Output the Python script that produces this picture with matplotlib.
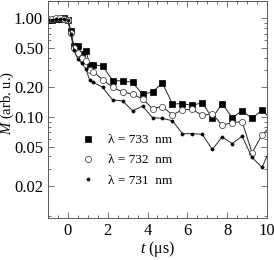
import numpy as np
import matplotlib
matplotlib.use("Agg")
import matplotlib.pyplot as plt
import matplotlib.ticker as mticker

###
# Data
###

t_us = [-1.0, -0.8, -0.6, -0.4, -0.2, 0.0, 0.15, 0.3, 0.5, 0.7, 0.9, 1.1, 1.25,
        1.75, 2.25, 2.75, 3.25, 3.75, 4.25, 4.75, 5.25, 5.75, 6.25, 6.75,
        7.25, 7.75, 8.25, 8.75, 9.25, 9.75, 10.25]

m_733 = [0.97, 0.97, 0.98, 0.98, 1.00, 0.97, 0.74, 0.53, 0.53, 0.44, 0.47, 0.34, 0.34,
         0.33, 0.235, 0.233, 0.225, 0.17, 0.18, 0.222, 0.136, 0.137, 0.132, 0.14,
         0.098, 0.137, 0.099, 0.116, 0.097, 0.118, 0.093]

m_732 = [0.98, 0.98, 1.00, 1.02, 0.98, 0.97, 0.72, 0.50, 0.45, 0.40, 0.37, 0.30, 0.29,
         0.24, 0.20, 0.18, 0.171, 0.153, 0.122, 0.128, 0.105, 0.119, 0.120, 0.104,
         0.108, 0.083, 0.088, 0.090, 0.0435, 0.066, 0.083]

m_731 = [0.97, 0.97, 0.98, 0.98, 0.98, 0.96, 0.70, 0.48, 0.39, 0.35, 0.31, 0.236, 0.227,
         0.20, 0.149, 0.146, 0.116, 0.129, 0.099, 0.097, 0.092, 0.068, 0.068, 0.067,
         0.047, 0.063, 0.054, 0.064, 0.039, 0.031, 0.052]

labels = ["\u03bb = 733  nm", "\u03bb = 732  nm", "\u03bb = 731  nm"]
y_ticks = [0.02, 0.05, 0.10, 0.20, 0.50, 1.00]
x_ticks = [0, 2, 4, 6, 8, 10]

###
# Style
###
plt.rcParams['font.family'] = ['Liberation Serif', 'DejaVu Serif']
plt.rcParams['mathtext.fontset'] = 'custom'
plt.rcParams['mathtext.rm'] = 'Liberation Serif'
plt.rcParams['mathtext.it'] = 'Liberation Serif:italic'

fig = plt.figure(figsize=(2.74, 2.60), dpi=100)
ax = fig.add_axes([0.175, 0.1615, 0.7995, 0.8365])

lc = '0.15'
ax.plot(t_us, m_733, '-', color=lc, lw=0.7, marker='s', ms=4.0,
        mfc='black', mec='black', mew=0.5, label=labels[0], clip_on=True)
ax.plot(t_us, m_732, '-', color=lc, lw=0.7, marker='o', ms=4.4,
        mfc='white', mec='0.3', mew=0.6, label=labels[1], clip_on=True)
ax.plot(t_us, m_731, '-', color=lc, lw=0.7, marker='o', ms=2.3,
        mfc='black', mec='black', mew=0.4, label=labels[2], clip_on=True)

ax.set_yscale('log')
ax.set_xlim(-1.0, 10.0)
ax.set_ylim(0.0095, 1.52)

ax.yaxis.set_major_locator(mticker.FixedLocator(y_ticks))
ax.yaxis.set_major_formatter(mticker.FixedFormatter(["%.2f" % v for v in y_ticks]))
ax.yaxis.set_minor_locator(mticker.LogLocator(base=10, subs=(1, 3, 4, 6, 7, 8, 9)))
ax.yaxis.set_minor_formatter(mticker.NullFormatter())
ax.xaxis.set_major_locator(mticker.FixedLocator(x_ticks))
ax.xaxis.set_minor_locator(mticker.MultipleLocator(0.5))

for s in ax.spines.values():
    s.set_linewidth(0.7)
    s.set_color('0.35')
ax.tick_params(which='both', direction='in', top=True, right=True,
               color='0.35', width=0.6, labelsize=12, pad=3.5)
ax.tick_params(which='major', length=4)
ax.tick_params(which='minor', length=2)

ax.set_xlabel('$t$ (\u03bcs)', fontsize=11.5, labelpad=0)
ax.set_ylabel('$M$ (arb. u.)', fontsize=10.5)
# label anchor sits on the right edge of the rotated text
ax.yaxis.set_label_coords(-0.145, 0.53)

leg = ax.legend(loc='lower left', bbox_to_anchor=(0.1, 0.09), frameon=False,
                fontsize=9.5, handlelength=1.0, handletextpad=1.0,
                labelspacing=0.6)
for h in leg.legend_handles:
    h.set_linestyle('none')

fig.savefig('out.png', dpi=100)
